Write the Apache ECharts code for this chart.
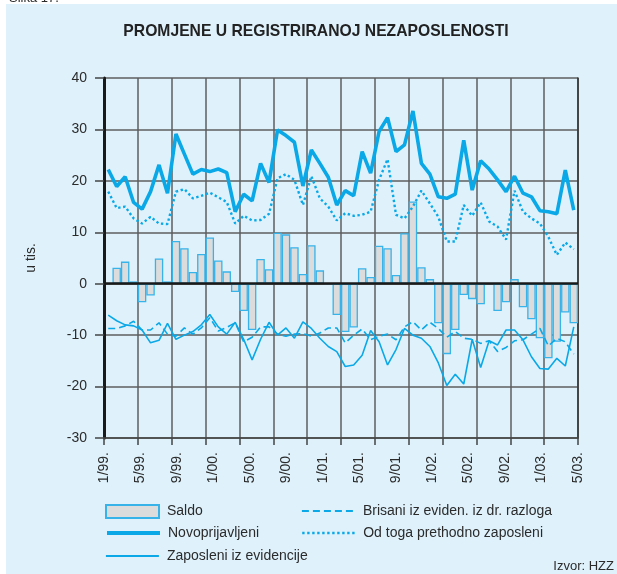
<!DOCTYPE html>
<html>
<head>
<meta charset="utf-8">
<script src="https://cdn.jsdelivr.net/npm/echarts@6/dist/echarts.min.js"></script>
<style>
  html, body { margin: 0; padding: 0; background: #fff; }
  #panel { position: absolute; left: 6px; top: 4px; width: 611px; height: 570px; background: #dff2fc; }
  #chart { position: absolute; left: 0; top: 0; width: 617px; height: 574px; }
</style>
</head>
<body>
<div id="panel"></div>
<div id="chart"></div>
<script>
// mjeseci 1/99 - 8/03
const months = [
  '1/99', '2/99', '3/99', '4/99', '5/99', '6/99', '7/99', '8/99', '9/99', '10/99', '11/99', '12/99',
  '1/00', '2/00', '3/00', '4/00', '5/00', '6/00', '7/00', '8/00', '9/00', '10/00', '11/00', '12/00',
  '1/01', '2/01', '3/01', '4/01', '5/01', '6/01', '7/01', '8/01', '9/01', '10/01', '11/01', '12/01',
  '1/02', '2/02', '3/02', '4/02', '5/02', '6/02', '7/02', '8/02', '9/02', '10/02', '11/02', '12/02',
  '1/03', '2/03', '3/03', '4/03', '5/03', '6/03', '7/03', '8/03'
];
const tickLabels = ['1/99.', '5/99.', '9/99.', '1/00.', '5/00.', '9/00.', '1/01.', '5/01.', '9/01.', '1/02.', '5/02.', '9/02.', '1/03.', '5/03.'];

const saldo = [
  null, 3.1, 4.3, 0.45, -3.6, -2.3, 4.9, 0.45, 8.3, 6.9, 2.3, 5.8, 9.0, 4.5,
  2.4, -1.6, -5.3, -9.0, 4.8, 2.8, 9.9, 9.6, 7.1, 1.9, 7.5, 2.6, 0, -6.1,
  -9.4, -8.5, 3.0, 1.3, 7.4, 6.9, 1.7, 9.8, 16.0, 3.2, 0.9, -7.7, -13.7, -9.0,
  -2.2, -3.0, -4.0, 0, -5.3, -3.6, 0.9, -4.6, -6.9, -10.6, -14.5, -11.3, -5.6, -7.7
];
const novoprijavljeni = [
  22.2, 18.9, 20.8, 15.8, 14.5, 17.9, 23.1, 17.6, 29.1, 25.2, 21.3, 22.2, 21.8, 22.3,
  21.6, 14.0, 17.4, 16.1, 23.4, 19.7, 29.9, 28.8, 27.5, 19.0, 26.0, 23.4, 20.7, 15.3,
  18.1, 17.1, 25.7, 21.5, 29.6, 32.3, 25.7, 27.0, 33.6, 23.4, 21.3, 16.9, 16.6, 17.4,
  27.9, 18.2, 23.9, 22.3, 20.2, 17.9, 20.9, 17.6, 16.9, 14.2, 14.0, 13.6, 22.1, 14.3
];
const prethodnoZaposleni = [
  17.9, 14.7, 15.0, 12.7, 11.7, 13.0, 11.7, 11.6, 17.9, 18.4, 16.6, 17.1, 17.7, 16.8,
  15.9, 11.7, 13.2, 12.3, 12.4, 13.6, 20.5, 21.3, 20.2, 15.3, 20.9, 16.6, 15.0, 12.3,
  13.7, 13.2, 13.4, 14.0, 20.2, 24.2, 13.4, 12.7, 15.0, 18.1, 15.6, 13.0, 8.2, 8.2,
  15.3, 13.2, 15.8, 12.1, 11.1, 8.6, 18.1, 14.0, 12.7, 11.7, 9.1, 5.6, 8.0, 6.7
];
const zaposleni = [
  -6.1, -7.2, -8.0, -8.2, -9.0, -11.5, -11.0, -7.7, -10.8, -10.0, -9.3, -8.0, -6.0, -8.4,
  -9.8, -7.5, -10.8, -14.8, -10.8, -7.5, -10.0, -8.6, -10.6, -7.4, -8.7, -10.6, -12.2, -13.2,
  -16.1, -15.8, -13.9, -9.1, -11.3, -15.8, -12.8, -8.7, -10.0, -10.6, -12.2, -15.4, -19.8, -17.6,
  -19.5, -10.8, -16.3, -11.1, -11.9, -9.0, -9.0, -10.9, -14.2, -16.5, -16.6, -14.5, -16.0, -8.4
];
const brisani = [
  -8.7, -8.7, -8.2, -7.3, -9.0, -9.0, -7.6, -9.8, -10.2, -8.6, -9.8, -8.6, -6.6, -9.2,
  -8.5, -7.6, -11.3, -10.4, -8.4, -8.4, -9.8, -10.2, -9.8, -9.7, -10.2, -9.6, -8.6, -8.6,
  -11.5, -10.0, -8.8, -10.9, -10.2, -9.8, -10.9, -8.4, -7.4, -9.0, -7.5, -8.7, -10.4, -9.3,
  -10.6, -10.8, -11.6, -11.1, -13.2, -12.4, -11.1, -10.9, -9.8, -8.7, -12.1, -10.6, -11.3, -13.7
];

const textColor = '#2b2b2b';
const blue = '#0aa8e6';
const gridColor = '#5e5e5e';
const font = 'Liberation Sans';

const chart = echarts.init(document.getElementById('chart'));

const legendBase = {
  orient: 'horizontal',
  itemWidth: 53,
  itemHeight: 13,
  padding: 0,
  itemGap: 0,
  selectedMode: false,
  textStyle: { fontSize: 14, color: textColor, fontFamily: font, padding: [0, 0, 0, 3] },
};
// legenda za linije: bez kružića, samo linija
function lineLegend(name, left, top, width) {
  return Object.assign({}, legendBase, {
    data: [name],
    left: left,
    top: top,
    itemStyle: { opacity: 0 },
    lineStyle: { width: width, type: 'inherit', color: blue },
  });
}

const option = {
  animation: false,
  backgroundColor: 'transparent',
  textStyle: { fontFamily: font },
  graphic: [
    { type: 'text', x: 9, y: 5, style: { text: 'Slika 17.', font: '13px Liberation Sans', fill: textColor, textVerticalAlign: 'bottom' } },
    { type: 'text', x: 316, y: 32, style: { text: 'PROMJENE U REGISTRIRANOJ NEZAPOSLENOSTI', font: 'bold 15.7px Liberation Sans', fill: '#222', textAlign: 'center', textVerticalAlign: 'middle' } },
    { type: 'text', x: 614, y: 566, style: { text: 'Izvor: HZZ', font: '13px Liberation Sans', fill: textColor, textAlign: 'right', textVerticalAlign: 'middle' } },
  ],
  legend: [
    Object.assign({}, legendBase, { data: [{ name: 'Saldo', icon: 'rect' }], left: 105, top: 504 }),
    lineLegend('Novoprijavljeni', 105, 526, 4),
    lineLegend('Zaposleni iz evidencije', 105, 549, 1.8),
    lineLegend('Brisani iz eviden. iz dr. razloga', 301, 504, 1.8),
    lineLegend('Od toga prethodno zaposleni', 301, 526, 2.4),
  ],
  grid: { left: 104, right: 39, top: 78, bottom: 136 },
  xAxis: [
    {
      type: 'category',
      data: months,
      boundaryGap: true,
      position: 'bottom',
      offset: 0,
      axisLine: { onZero: false, lineStyle: { color: '#444', width: 1.5 } },
      axisTick: { show: true, interval: 3, length: 7, lineStyle: { color: '#444', width: 1.5 } },
      axisLabel: { show: false },
      splitLine: { show: true, interval: 3, lineStyle: { color: gridColor, width: 1.5 } },
    },
    {
      type: 'category',
      data: tickLabels,
      boundaryGap: false,
      position: 'bottom',
      offset: 0,
      axisLine: { show: false },
      axisTick: { show: false },
      splitLine: { show: false },
      axisLabel: { interval: 0, rotate: 90, margin: 14, fontSize: 14, color: textColor, fontFamily: font },
    },
  ],
  yAxis: [
    {
      type: 'value',
      min: -30,
      max: 40,
      interval: 10,
      name: 'u tis.',
      nameLocation: 'middle',
      nameRotate: 90,
      nameGap: 66,
      nameTextStyle: { fontSize: 14, color: textColor, fontFamily: font },
      axisLine: { show: true, lineStyle: { color: '#1a1a1a', width: 3 } },
      axisTick: { show: true, length: 9, lineStyle: { color: '#444', width: 1.5 } },
      axisLabel: { fontSize: 14, color: textColor, margin: 17, fontFamily: font },
      splitLine: { lineStyle: { color: gridColor, width: 1.5 } },
    },
    {
      type: 'value',
      min: -30,
      max: 40,
      interval: 10,
      position: 'right',
      axisLine: { show: true, lineStyle: { color: '#333', width: 1.5 } },
      axisTick: { show: false },
      axisLabel: { show: false },
      splitLine: { show: false },
    },
  ],
  series: [
    {
      name: 'Saldo',
      type: 'bar',
      data: saldo,
      barCategoryGap: '0%',
      itemStyle: { color: '#dcdcdc', borderColor: '#37b3ea', borderWidth: 1.3 },
      markLine: {
        silent: true,
        symbol: ['none', 'none'],
        label: { show: false },
        lineStyle: { color: '#1a1a1a', width: 2.5, type: 'solid' },
        data: [{ yAxis: 0 }],
      },
    },
    {
      name: 'Novoprijavljeni',
      type: 'line',
      data: novoprijavljeni,
      symbol: 'none',
      lineStyle: { color: blue, width: 3.6 },
      itemStyle: { color: blue },
    },
    {
      name: 'Zaposleni iz evidencije',
      type: 'line',
      data: zaposleni,
      symbol: 'none',
      lineStyle: { color: blue, width: 1.6 },
      itemStyle: { color: blue },
    },
    {
      name: 'Brisani iz eviden. iz dr. razloga',
      type: 'line',
      data: brisani,
      symbol: 'none',
      lineStyle: { color: blue, width: 1.6, type: [7, 4] },
      itemStyle: { color: blue },
    },
    {
      name: 'Od toga prethodno zaposleni',
      type: 'line',
      data: prethodnoZaposleni,
      symbol: 'none',
      lineStyle: { color: blue, width: 2.4, type: [2.4, 2.6] },
      itemStyle: { color: blue },
    },
  ],
};

chart.setOption(option);
</script>
</body>
</html>
